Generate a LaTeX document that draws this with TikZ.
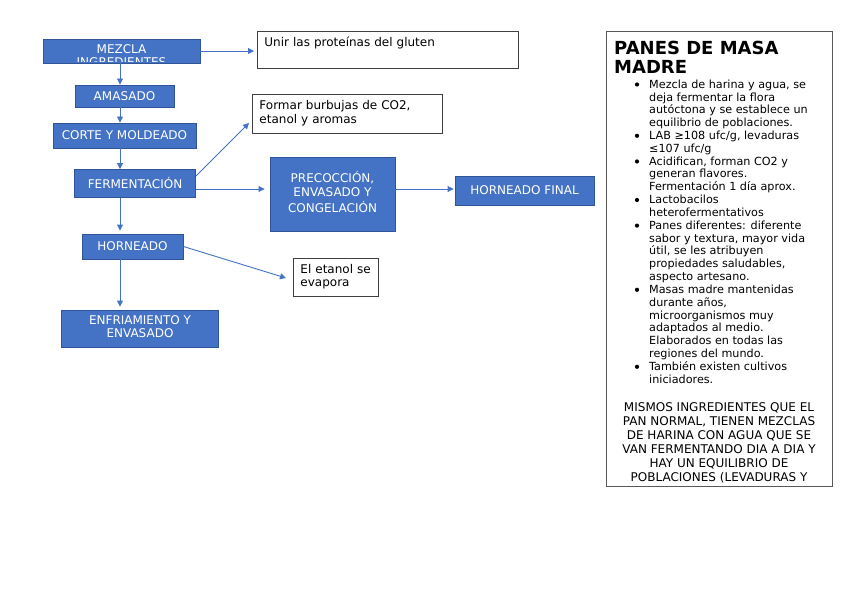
\documentclass[tikz,border=0pt]{standalone}
\usepackage{fontspec}
\setmainfont{DejaVu Sans}
\usetikzlibrary{arrows.meta}
\definecolor{boxblue}{HTML}{4472C4}
\definecolor{boxedge}{HTML}{2F5597}
\definecolor{arrowblue}{HTML}{4472C4}
\definecolor{noteedge}{HTML}{404040}
\definecolor{sideedge}{HTML}{595959}
\tikzset{
  bluebox/.style={draw=boxedge, line width=0.9pt, fill=boxblue, text=white, align=center, inner sep=0pt,
    font=\fontsize{12}{13.4}\selectfont},
  notebox/.style={draw=noteedge, line width=0.9pt, fill=white, align=left, inner xsep=7pt, inner ysep=0pt,
    font=\fontsize{12}{13.4}\selectfont, anchor=north west},
  conn/.style={draw=arrowblue, line width=0.9pt, -{Triangle[width=6pt,length=6pt]}},
}
\begin{document}
\begin{tikzpicture}[x=1pt,y=-1pt]
\useasboundingbox[fill=white] (0,0) rectangle (848,599);
\coordinate (colx) at (120,0);

% process boxes
\node[bluebox, minimum width=157, minimum height=24] (mez) at (121.5,51) {};
\begin{scope}
  \clip ([xshift=1pt,yshift=-1pt]mez.north west) rectangle ([xshift=-1pt,yshift=2pt]mez.south east);
  \node[anchor=north, inner sep=0pt, text=white, align=center, font=\fontsize{12}{13.4}\selectfont] (meztxt) at (121.5,43.6) {\strut MEZCLA\\\strut INGREDIENTES};
\end{scope}
\node[bluebox, minimum width=99, minimum height=22] (ama) at (124.5,96) {AMASADO};
\node[bluebox, minimum width=143, minimum height=25] (cor) at (124.5,135.5) {CORTE Y MOLDEADO};
\node[bluebox, minimum width=121, minimum height=28] (fer) at (135,183.5) {FERMENTACIÓN};
\node[bluebox, minimum width=101, minimum height=25] (hor) at (132.5,246.5) {HORNEADO};
\node[bluebox, minimum width=157, minimum height=37] (enf) at (140,328.5) {\strut ENFRIAMIENTO Y\\\strut ENVASADO};
\node[bluebox, minimum width=125, minimum height=74] (pre) at (332.5,194) {\strut PRECOCCIÓN,\\\strut ENVASADO Y\\\strut CONGELACIÓN};
\node[bluebox, minimum width=139, minimum height=29] (hfi) at (524.5,190.5) {HORNEADO FINAL};

% note boxes
\node[notebox, text width=247, minimum height=37] (uni) at (257,31) {\strut Unir las proteínas del gluten\\\strut};
\node[notebox, text width=176, minimum height=39] (for) at (252,94) {\strut Formar burbujas de CO2,\\\strut etanol y aromas};
\node[notebox, text width=71, minimum height=38] (eta) at (293,258) {\strut El etanol se\\\strut evapora};

% connector end points
\coordinate (forend) at (249,123);
\coordinate (etaend) at (286,278);

% connectors
\draw[conn] (mez.east) -- ([xshift=-3pt]mez.east -| uni.west);
\draw[conn] (mez.south -| colx) -- (ama.north -| colx);
\draw[conn] (ama.south -| colx) -- (cor.north -| colx);
\draw[conn] (cor.south -| colx) -- (fer.north -| colx);
\draw[conn] ([yshift=7.5pt]fer.east) -- (forend);
\draw[conn] ([yshift=-5.5pt]fer.east) -- ([xshift=-5pt,yshift=-5.5pt]fer.east -| pre.west);
\draw[conn, shorten >=3pt] (fer.south -| colx) -- (hor.north -| colx);
\draw[conn, shorten >=3pt] (hor.south -| colx) -- (enf.north -| colx);
\draw[conn] (hor.east) -- (etaend);
\draw[conn] ([yshift=5pt]pre.east) -- ([xshift=-1pt,yshift=5pt]pre.east -| hfi.west);

% side panel
\draw[draw=sideedge, line width=0.9pt] (606,31) rectangle (832,486);
\node[anchor=north west, inner sep=0pt, align=left, font=\fontsize{18}{19.5}\selectfont\bfseries] (title) at (614,40.4) {\strut PANES DE MASA\\\strut MADRE};
\node[anchor=north west, inner sep=0pt, align=left, font=\fontsize{11.2}{12.83}\selectfont] (bul) at (649,79) {%
\strut Mezcla de harina y agua, se\\
deja fermentar la flora\\
autóctona y se establece un\\
equilibrio de poblaciones.\\
LAB ≥108 ufc/g, levaduras\\
≤107 ufc/g\\
Acidifican, forman CO2 y\\
generan flavores.\\
Fermentación 1 día aprox.\\
Lactobacilos\\
heterofermentativos\\
Panes diferentes: diferente\\
sabor y textura, mayor vida\\
útil, se les atribuyen\\
propiedades saludables,\\
aspecto artesano.\\
Masas madre mantenidas\\
durante años,\\
microorganismos muy\\
adaptados al medio.\\
Elaborados en todas las\\
regiones del mundo.\\
También existen cultivos\\
iniciadores.};
\foreach \n in {1,5,7,10,12,17,23}{
  \fill (637,{84.5+(\n-1)*12.83}) circle (2.1);
}
\node[anchor=north, inner sep=0pt, align=center, font=\fontsize{12}{14}\selectfont] (par) at (719,401.7) {%
\strut MISMOS INGREDIENTES QUE EL\\
PAN NORMAL, TIENEN MEZCLAS\\
DE HARINA CON AGUA QUE SE\\
VAN FERMENTANDO DIA A DIA Y\\
HAY UN EQUILIBRIO DE\\
POBLACIONES (LEVADURAS Y};
\end{tikzpicture}
\end{document}
